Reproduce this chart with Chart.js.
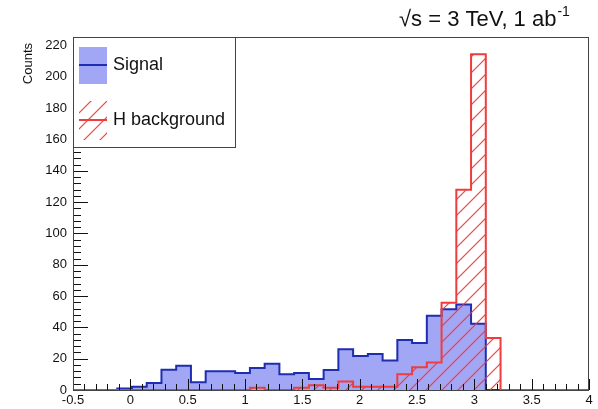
<!DOCTYPE html>
<html>
<head>
<meta charset="utf-8">
<script src="https://cdn.jsdelivr.net/npm/chart.js@4.4.1/dist/chart.umd.min.js"></script>
<style>
  html, body { margin: 0; padding: 0; background: #fff; }
  #wrap { width: 598px; height: 409px; }
</style>
</head>
<body>
<div id="wrap"><canvas id="hist" width="598" height="409"></canvas></div>
<script>
// Histogram binning: 35 equal bins between -0.5 and 4
const binLow = -0.5;
const binHigh = 4;
const nBins = 35;
const binWidth = (binHigh - binLow) / nBins;

// Bin contents
const signalCounts = [0, 0, 0, 1, 2, 4.5, 13, 15.5, 5, 12,
                      12, 10.8, 14, 16.8, 10, 10.8, 7, 12.8, 26, 21.7,
                      23, 18.8, 32, 30, 47.5, 51.6, 54.6, 42.4, 0, 0,
                      0, 0, 0, 0, 0];
const hBkgCounts = [0, 0, 0, 0, 0, 0, 0, 0, 0, 0,
                    0, 0, 1.5, 0, 0, 1.5, 3, 1.5, 5.5, 2,
                    2, 2, 10, 14.5, 17.5, 55.7, 128, 214.5, 33.2, 0,
                    0, 0, 0, 0, 0];

const xTicks = [-0.5, 0, 0.5, 1, 1.5, 2, 2.5, 3, 3.5, 4];
const yTicks = [0, 20, 40, 60, 80, 100, 120, 140, 160, 180, 200, 220];
const yMax = 225.5;

const FONT = "'Liberation Sans', Arial, Helvetica, sans-serif";
const SIGNAL_FILL = '#a2a7f5';
const SIGNAL_LINE = '#1f2db0';
const BKG_LINE = '#f03c3c';

// left bin edges -> step points, plus closing point at the upper edge
function toSteps(counts) {
    const pts = counts.map((c, i) => ({ x: binLow + i * binWidth, y: c }));
    pts.push({ x: binHigh, y: 0 });
    return pts;
}

const canvas = document.getElementById('hist');
const ctx = canvas.getContext('2d');

// ROOT-like 3004 hatch, painted pixel by pixel into a small tile
function makeHatch() {
    const s = 16;
    const tile = document.createElement('canvas');
    tile.width = s; tile.height = s;
    const g = tile.getContext('2d');
    const img = g.createImageData(s, s);
    for (let j = 0; j < s; j++) {
        for (let i = 0; i < s; i++) {
            const d = (i + j) % s;
            let alpha = 0;
            if (d === s - 1) alpha = 230;
            else if (d === 0 || d === s - 2) alpha = 80;
            if (alpha) {
                const k = (j * s + i) * 4;
                img.data[k] = 238;
                img.data[k + 1] = 55;
                img.data[k + 2] = 55;
                img.data[k + 3] = alpha;
            }
        }
    }
    g.putImageData(img, 0, 0);
    return ctx.createPattern(tile, 'repeat');
}
const hatch = makeHatch();

// frame, inward ticks, legend, labels
const rootStyle = {
    id: 'rootStyle',
    afterDraw(chart) {
        const { ctx, chartArea: a, scales: { x, y } } = chart;
        ctx.save();

        ctx.strokeStyle = '#111';
        ctx.lineWidth = 1;
        ctx.beginPath();
        for (let i = 0; i * 4 <= yMax; i++) {
            const py = Math.round(y.getPixelForValue(i * 4)) + 0.5;
            const len = i % 5 === 0 ? 15 : 8;
            ctx.moveTo(a.left, py);
            ctx.lineTo(a.left + len, py);
        }
        for (let i = 0; i <= 45; i++) {
            const px = Math.round(x.getPixelForValue(binLow + i * 0.1)) + 0.5;
            const len = i % 5 === 0 ? 11 : 6;
            ctx.moveTo(px, a.bottom);
            ctx.lineTo(px, a.bottom - len);
        }
        ctx.stroke();

        ctx.strokeStyle = '#444';
        ctx.strokeRect(a.left + 0.5, a.top + 0.5, a.right - a.left - 1, a.bottom - a.top);

        // legend box
        const lx = a.left, ly = a.top;
        ctx.fillStyle = '#fff';
        ctx.fillRect(lx, ly, 162, 110);
        ctx.strokeStyle = '#444';
        ctx.strokeRect(lx + 0.5, ly + 0.5, 162, 110);

        ctx.fillStyle = SIGNAL_FILL;
        ctx.fillRect(lx + 6, ly + 10, 28, 37);
        ctx.strokeStyle = SIGNAL_LINE;
        ctx.lineWidth = 2;
        ctx.beginPath();
        ctx.moveTo(lx + 6, ly + 28); ctx.lineTo(lx + 34, ly + 28);
        ctx.stroke();

        ctx.fillStyle = hatch;
        ctx.fillRect(lx + 6, ly + 64, 28, 39);
        ctx.strokeStyle = BKG_LINE;
        ctx.beginPath();
        ctx.moveTo(lx + 6, ly + 83); ctx.lineTo(lx + 34, ly + 83);
        ctx.stroke();

        ctx.fillStyle = '#111';
        ctx.font = '18px ' + FONT;
        ctx.textBaseline = 'middle';
        ctx.textAlign = 'left';
        ctx.fillText('Signal', lx + 40, ly + 28);
        ctx.fillText('H background', lx + 40, ly + 83);

        // energy / luminosity label
        ctx.textBaseline = 'alphabetic';
        ctx.font = '22px ' + FONT;
        const main = '\u221As = 3 TeV, 1 ab';
        ctx.fillText(main, 399, 26);
        const w = ctx.measureText(main).width;
        ctx.font = '14px ' + FONT;
        ctx.fillText('-1', 399 + w + 1, 16);

        // y axis title
        ctx.translate(28, 43);
        ctx.rotate(-Math.PI / 2);
        ctx.font = '13px ' + FONT;
        ctx.textAlign = 'right';
        ctx.textBaseline = 'middle';
        ctx.fillText('Counts', 0, 0);

        ctx.restore();
    }
};

new Chart(ctx, {
    type: 'line',
    data: {
        datasets: [
            {
                label: 'Signal',
                data: toSteps(signalCounts),
                stepped: true,
                fill: 'origin',
                backgroundColor: SIGNAL_FILL,
                borderColor: SIGNAL_LINE,
                borderWidth: 2,
                pointRadius: 0,
                order: 2
            },
            {
                label: 'H background',
                data: toSteps(hBkgCounts),
                stepped: true,
                fill: 'origin',
                backgroundColor: hatch,
                borderColor: BKG_LINE,
                borderWidth: 2,
                pointRadius: 0,
                order: 1
            }
        ]
    },
    options: {
        responsive: false,
        animation: false,
        layout: { padding: { top: 37, right: 9, bottom: 0, left: 0 } },
        plugins: {
            legend: { display: false },
            tooltip: { enabled: false }
        },
        scales: {
            x: {
                type: 'linear',
                min: binLow,
                max: binHigh,
                afterBuildTicks: s => { s.ticks = xTicks.map(v => ({ value: v })); },
                afterFit: s => { s.height = 19; },
                grid: { display: false, drawTicks: false },
                border: { display: false },
                ticks: {
                    autoSkip: false,
                    maxRotation: 0,
                    padding: 3,
                    color: '#111',
                    font: { family: FONT, size: 13 },
                    callback: v => String(v)
                }
            },
            y: {
                min: 0,
                max: yMax,
                afterBuildTicks: s => { s.ticks = yTicks.map(v => ({ value: v })); },
                afterFit: s => { s.width = 73; },
                grid: { display: false, drawTicks: false },
                border: { display: false },
                ticks: {
                    padding: 6,
                    color: '#111',
                    font: { family: FONT, size: 13 },
                    callback: v => String(v)
                }
            }
        }
    },
    plugins: [rootStyle]
});
</script>
</body>
</html>
